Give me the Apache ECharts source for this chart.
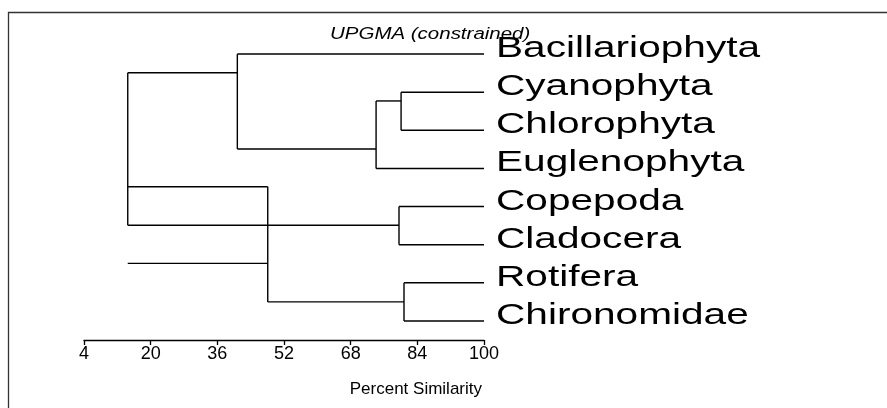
<!DOCTYPE html>
<html>
<head>
<meta charset="utf-8">
<script src="https://cdn.jsdelivr.net/npm/echarts@6/dist/echarts.min.js"></script>
<style>
  html, body { margin: 0; padding: 0; background: #fff; }
  #chart { width: 887px; height: 408px; }
</style>
</head>
<body>
<div id="chart"></div>
<script>
// leaves, top to bottom (row index 0..7)
const leaves = ['Bacillariophyta', 'Cyanophyta', 'Chlorophyta', 'Euglenophyta',
  'Copepoda', 'Cladocera', 'Rotifera', 'Chironomidae']
const leafEnd = 100

// horizontal branches: [row, from similarity, to similarity]
const hBranches = [
  [0.49, 14.5, 40.8],
  [0, 40.8, 100],
  [2.49, 40.8, 74.1],
  [1.23, 74.1, 80.1],
  [1, 80.1, 100],
  [2, 80.1, 100],
  [3, 74.1, 100],
  [3.48, 14.5, 48.1],
  [4.49, 14.5, 79.6],
  [4, 79.6, 100],
  [5, 79.6, 100],
  [5.49, 14.5, 48.1],
  [6.5, 48.1, 80.8],
  [6, 80.8, 100],
  [7, 80.8, 100]
]

// vertical joins: [similarity, from row, to row]
const vJoins = [
  [14.5, 0.49, 4.49],
  [40.8, 0, 2.49],
  [74.1, 1.23, 3],
  [80.1, 1, 2],
  [48.1, 3.48, 6.5],
  [79.6, 4, 5],
  [80.8, 6, 7]
]

const segments = [
  ...hBranches.map(([r, a, b]) => [a, r, b, r]),
  ...vJoins.map(([s, a, b]) => [s, a, s, b])
]

const chart = echarts.init(document.getElementById('chart'))
const font = 'Liberation Sans, Arial, Helvetica, sans-serif'

chart.setOption({
  animation: false,
  backgroundColor: '#fff',
  grid: { left: 84, right: 403, top: 35, bottom: 68 },
  xAxis: {
    type: 'value',
    min: 4,
    max: 100,
    interval: 16,
    name: 'Percent Similarity',
    nameLocation: 'end',
    nameGap: -2,
    nameTextStyle: {
      color: '#000', fontSize: 17, fontFamily: font,
      align: 'right', verticalAlign: 'top', padding: [41, 0, 0, 0]
    },
    axisLine: { onZero: false, lineStyle: { color: '#000', width: 1.3 } },
    axisTick: { length: 5, lineStyle: { color: '#000', width: 1.3 } },
    axisLabel: { color: '#000', fontSize: 18, fontFamily: font, margin: 5 },
    splitLine: { show: false }
  },
  yAxis: {
    type: 'value',
    min: -0.5,
    max: 7.5,
    inverse: true,
    show: false,
    splitLine: { show: false }
  },
  graphic: [
    {
      type: 'rect',
      z: -1,
      shape: { x: 8.5, y: 12.5, width: 900, height: 420 },
      style: { fill: 'none', stroke: '#333', lineWidth: 1.3 }
    },
    {
      type: 'text',
      x: 330,
      y: 35,
      scaleX: 1.28,
      style: {
        text: 'UPGMA (constrained)',
        fontSize: 16, fontStyle: 'italic', fontFamily: font,
        fill: '#000', align: 'left', verticalAlign: 'middle'
      }
    }
  ],
  series: [
    {
      type: 'custom',
      coordinateSystem: 'cartesian2d',
      encode: { x: [0, 2], y: [1, 3] },
      data: segments,
      renderItem: (params, api) => {
        const p1 = api.coord([api.value(0), api.value(1)])
        const p2 = api.coord([api.value(2), api.value(3)])
        return {
          type: 'line',
          shape: { x1: p1[0], y1: p1[1], x2: p2[0], y2: p2[1] },
          style: { stroke: '#000', lineWidth: 1.4 }
        }
      }
    },
    {
      type: 'custom',
      coordinateSystem: 'cartesian2d',
      clip: false,
      encode: { x: 0, y: 1 },
      data: leaves.map((name, i) => [leafEnd, i]),
      renderItem: (params, api) => {
        const p = api.coord([api.value(0), api.value(1)])
        return {
          type: 'text',
          x: p[0] + 12,
          y: p[1] - 5,
          scaleX: 1.4,
          style: {
            text: leaves[params.dataIndex],
            fontSize: 29, fontFamily: font,
            fill: '#000', align: 'left', verticalAlign: 'middle'
          }
        }
      }
    }
  ]
})
</script>
</body>
</html>
